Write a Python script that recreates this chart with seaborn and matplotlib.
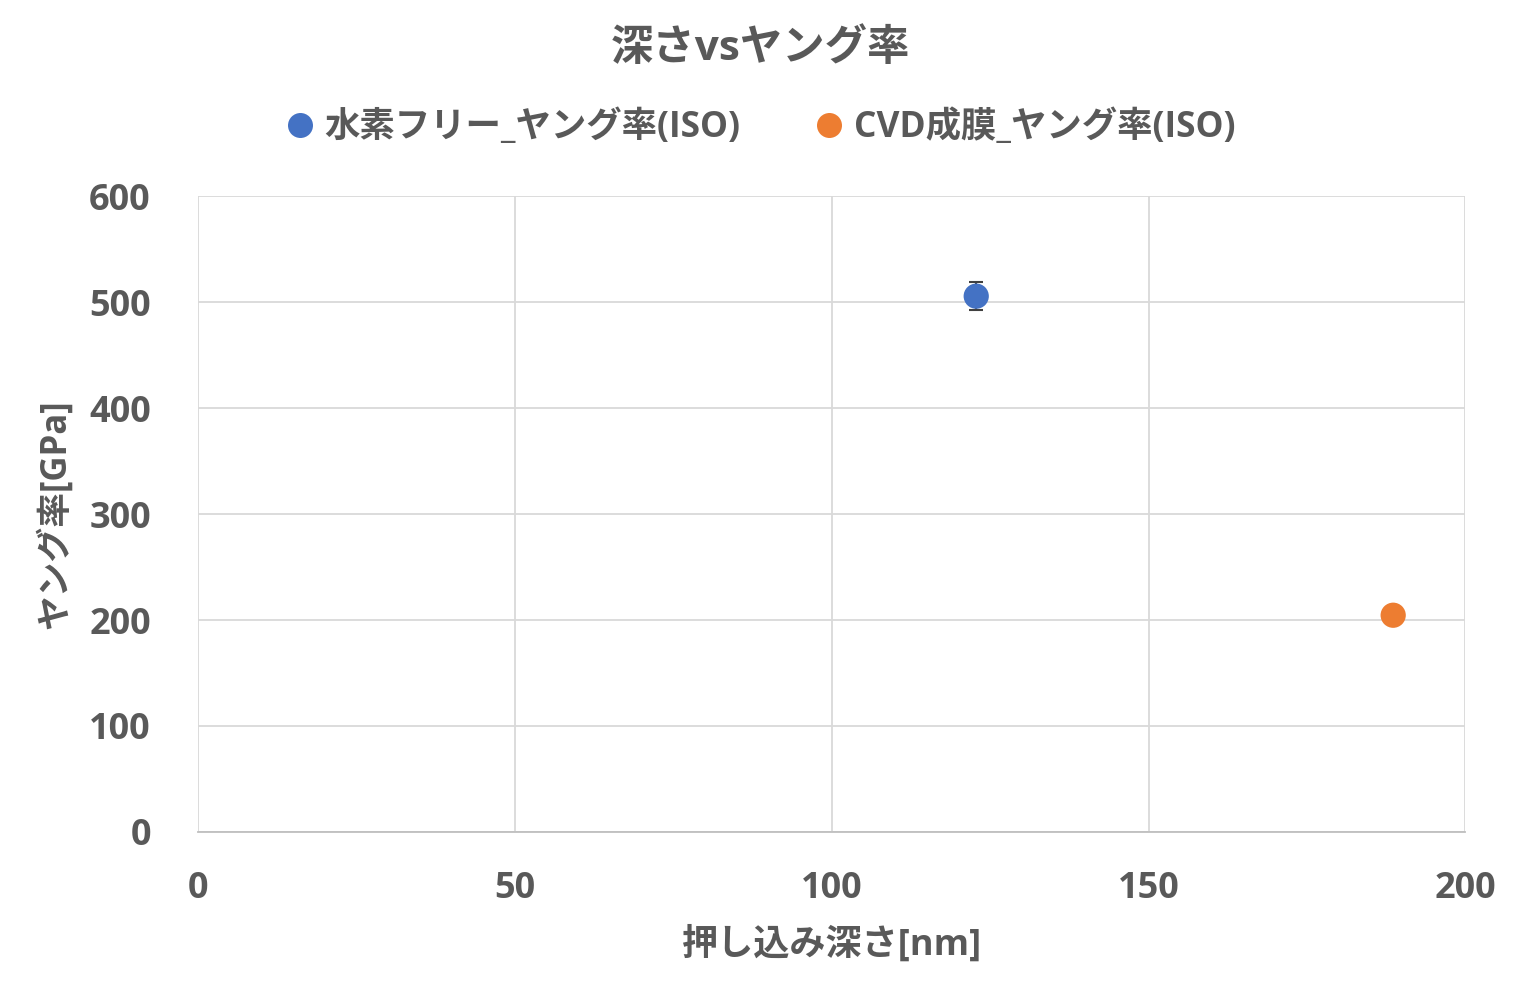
import matplotlib
matplotlib.use("Agg")
import matplotlib.pyplot as plt
import seaborn as sns
import pandas as pd

series = ["水素フリー_ヤング率(ISO)", "CVD成膜_ヤング率(ISO)"]
depth = [122.8, 188.6]
modulus = [505.5, 204.5]
modulus_err = [13.5, 0.0]
colors = ["#4472C4", "#ED7D31"]
x_ticks = [0, 50, 100, 150, 200]
y_ticks = [0, 100, 200, 300, 400, 500, 600]
title = "深さvsヤング率"
x_label = "押し込み深さ[nm]"
y_label = "ヤング率[GPa]"

sns.set_theme(style="white")
plt.rcParams['font.family'] = ['Open Sans', 'Noto Sans CJK JP', 'DejaVu Sans']
plt.rcParams['font.weight'] = 'bold'
TXT = "#595959"

df = pd.DataFrame({"series": series, "depth": depth, "modulus": modulus, "err": modulus_err})

fig = plt.figure(figsize=(15.26, 9.97), dpi=100)
ax = fig.add_axes([0.1298, 0.1655, 0.8305, 0.6379])

ax.errorbar(df["depth"], df["modulus"], yerr=df["err"], fmt="none",
            ecolor="#404040", elinewidth=1.5, capsize=5, capthick=1.5, zorder=2)
sns.scatterplot(data=df, x="depth", y="modulus", hue="series", palette=colors,
                s=330, linewidth=0, ax=ax, zorder=3, legend=False)

ax.set_xlim(0, 200)
ax.set_ylim(0, 600)
ax.set_xticks(x_ticks)
ax.set_yticks(y_ticks)
ax.grid(True, color="#d9d9d9", linewidth=1.3)
ax.set_axisbelow(True)
for s in ["top", "right", "left"]:
    ax.spines[s].set_visible(False)
ax.spines["bottom"].set_color("#bfbfbf")
ax.spines["bottom"].set_linewidth(1.3)
ax.tick_params(axis="both", length=0, labelsize=26, labelcolor=TXT)
ax.tick_params(axis="x", pad=28)
ax.tick_params(axis="y", pad=34)
for lab in ax.get_xticklabels() + ax.get_yticklabels():
    lab.set_fontweight("bold")

ax.set_xlabel(x_label, fontsize=26, color=TXT, fontweight="bold", labelpad=14)
ax.set_ylabel(y_label, fontsize=25, color=TXT, fontweight="bold", labelpad=11)

fig.text(0.498, 0.950, title, ha="center", va="center", fontsize=30.5, color=TXT, fontweight="bold")

handles = [plt.Line2D([], [], marker="o", linestyle="none", markersize=18,
                      markerfacecolor=c, markeredgewidth=0) for c in colors]
leg = fig.legend(handles, series, loc="center", bbox_to_anchor=(0.496, 0.872), ncol=2,
                 frameon=False, fontsize=25.5, handletextpad=0.1, columnspacing=1.9,
                 handlelength=1.2)
for t in leg.get_texts():
    t.set_color(TXT)
    t.set_fontweight("bold")

fig.savefig("out.png", dpi=100, facecolor="white")
